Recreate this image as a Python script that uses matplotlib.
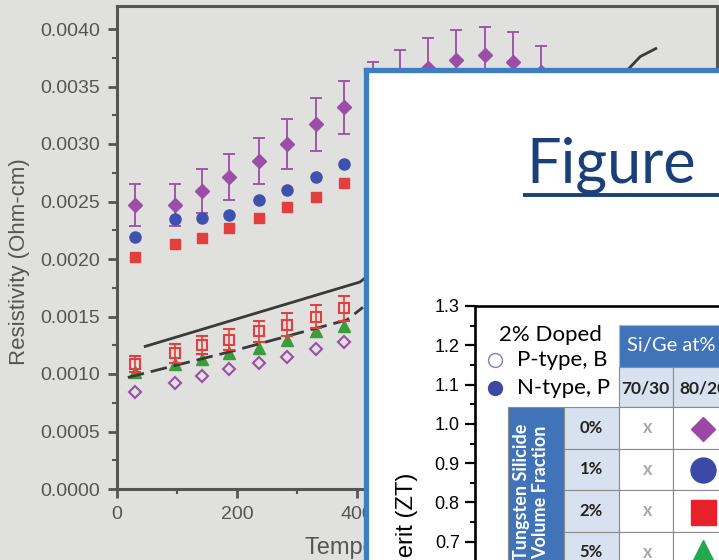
import matplotlib.pyplot as plt
from matplotlib.patches import Rectangle
from matplotlib.ticker import MultipleLocator, FormatStrFormatter

plt.rcParams['font.family'] = ['Liberation Sans', 'DejaVu Sans']

W, H = 719, 560
bg = '#e0e0de'

# ---- resistivity vs temperature (background chart) ----
temp = [30, 97, 142, 187, 237, 283, 332, 378, 426, 472, 518, 565, 613, 660, 707]
rho_w0 = [0.00247, 0.00247, 0.00259, 0.00271, 0.00285, 0.00300, 0.00317, 0.00332,
          0.00348, 0.00358, 0.00366, 0.00373, 0.00377, 0.00371, 0.00363]
rho_w0_err = [0.00018, 0.00018, 0.00019, 0.00020, 0.00020, 0.00022, 0.00023, 0.00023,
              0.00023, 0.00024, 0.00026, 0.00026, 0.00025, 0.00026, 0.00022]
rho_w1 = [0.00219, 0.00235, 0.00236, 0.00238, 0.00251, 0.00260, 0.00271, 0.00283]
rho_w2 = [0.00202, 0.00213, 0.00218, 0.00227, 0.00236, 0.00245, 0.00254, 0.00266]
rho_p2 = [0.00109, 0.00118, 0.00125, 0.00130, 0.00137, 0.00143, 0.00150, 0.00157]
rho_p2_err = [0.00007, 0.00008, 0.00008, 0.00009, 0.00009, 0.00010, 0.00010, 0.00011]
rho_p5 = [0.00102, 0.00109, 0.00113, 0.00118, 0.00123, 0.00130, 0.00137, 0.00142]
rho_p0 = [0.00084, 0.00092, 0.00098, 0.00104, 0.00110, 0.00115, 0.00122, 0.00128]

solid_x = [47, 405, 852, 872, 898]
solid_y = [0.00124, 0.00180, 0.00365, 0.00376, 0.00383]
dash_x = [18, 193, 383, 410]
dash_y = [0.00097, 0.00120, 0.00147, 0.00158]

# ---- ZT slide legend table ----
fractions = ['0%', '1%', '2%', '5%']
ratios = ['70/30', '80/20']
tbl_markers = ['D', 'o', 's', '^']
tbl_colors = ['#9c47a7', '#3b4aa6', '#e8202a', '#22a94b']
tbl_sizes = [12.5, 18, 18, 19]

purple = '#9a4ea6'
blue = '#3f51ae'
red = '#e2403e'
green = '#3c9c3c'
gray = '#555555'
slide_blue = '#3c7dc3'
hdr_blue = '#4173b9'
light_blue = '#d7e1ef'
title_blue = '#1b4079'


def box(l, t, r, b):
    return [l / W, 1 - b / H, (r - l) / W, (b - t) / H]


fig = plt.figure(figsize=(W / 100, H / 100), dpi=100, facecolor=bg)

ax = fig.add_axes(box(117, 6, 717, 489), zorder=0)
ax.set_facecolor(bg)
ax.errorbar(temp, rho_w0, yerr=rho_w0_err, fmt='D', color=purple, ms=7.5,
            capsize=4, elinewidth=1.3, capthick=1.3, zorder=3)
ax.plot(temp[:8], rho_w1, 'o', color=blue, ms=8, zorder=3)
ax.plot(temp[:8], rho_w2, 's', color=red, ms=6.5, zorder=3)
ax.plot(solid_x, solid_y, '-', color='#3a3a3a', lw=2, zorder=2)
ax.plot(temp[:8], rho_p5, '^', color=green, ms=9, zorder=3)
ax.plot(dash_x, dash_y, color='#3a3a3a', lw=2, dashes=(6, 2.5), zorder=4)
ax.errorbar(temp[:8], rho_p2, yerr=rho_p2_err, fmt='s', mfc='none', mec=red,
            mew=1.5, ms=7, ecolor=red, capsize=4, elinewidth=1.2, capthick=1.2, zorder=5)
ax.plot(temp[:8], rho_p0, 'D', mfc='none', mec=purple, mew=1.5, ms=6.5, zorder=3)

ax.set_xlim(0, 1000)
ax.set_ylim(0, 0.0042)
ax.set_xticks([0, 200, 400, 600, 800, 1000])
ax.set_yticks([0.0, 0.0005, 0.0010, 0.0015, 0.0020, 0.0025, 0.0030, 0.0035, 0.0040])
ax.yaxis.set_major_formatter(FormatStrFormatter('%.4f'))
ax.xaxis.set_minor_locator(MultipleLocator(100))
ax.yaxis.set_minor_locator(MultipleLocator(0.00025))
for s in ax.spines.values():
    s.set_color(gray)
    s.set_linewidth(2.2)
ax.tick_params(which='major', direction='out', length=6.5, width=2, color=gray,
               labelcolor=gray, labelsize=14, pad=5.5)
ax.tick_params(which='minor', direction='out', length=3.5, width=1.5, color=gray)
ax.set_ylabel('Resistivity (Ohm-cm)', fontsize=16, color=gray)
ax.yaxis.set_label_coords(-(117 - 30) / 600, 0.47)
ax.set_xlabel('Temperature (°C)', fontsize=17, color=gray, ha='left')
ax.xaxis.set_label_coords((305 - 117) / 600, -0.1)

# ---- slide panel on top ----
axp = fig.add_axes(box(366, 70, 780, 640), zorder=1)
axp.set_facecolor('white')
axp.set_xticks([])
axp.set_yticks([])
for s in axp.spines.values():
    s.set_color(slide_blue)
    s.set_linewidth(3.8)

# ---- ZT chart inside the slide ----
axz = fig.add_axes(box(475, 306, 780, 581), zorder=2)
axz.set_facecolor('none')
axz.set_ylim(0.6, 1.3)
axz.set_xticks([])
axz.set_yticks([0.7, 0.8, 0.9, 1.0, 1.1, 1.2, 1.3])
axz.yaxis.set_minor_locator(MultipleLocator(0.05))
axz.yaxis.set_major_formatter(FormatStrFormatter('%.1f'))
for k, s in axz.spines.items():
    s.set_color('black')
    s.set_linewidth(1.9)
    if k in ('right', 'bottom'):
        s.set_visible(False)
axz.tick_params(which='major', direction='out', length=7, width=1.6, labelsize=13, pad=4)
axz.tick_params(which='minor', direction='out', length=3.5, width=1.4)

# ---- overlay: title, legend, table ----
axo = fig.add_axes([0, 0, 1, 1], zorder=3)
axo.set_xlim(0, W)
axo.set_ylim(H, 0)
axo.axis('off')

axo.text(526, 183, 'Figure', fontsize=44, family='Lato', color=title_blue,
         ha='left', va='baseline')
axo.plot([523, W], [194.5, 194.5], color=title_blue, lw=2.8, solid_capstyle='butt')

axo.text(407, 473, 'Figure of Merit (ZT)', rotation=90, ha='center', va='top', fontsize=17)

axo.text(550, 335, '2% Doped', family='Lato', fontsize=16, ha='center', va='center')
axo.plot(495, 360, 'o', ms=10, mfc='white', mec='#8080b4', mew=1)
axo.text(517, 360, 'P-type, B', family='Lato', fontsize=16, ha='left', va='center')
axo.plot(495, 388, 'o', ms=10, color='#3c48a5')
axo.text(517, 388, 'N-type, P', family='Lato', fontsize=16, ha='left', va='center')

edge = '#8a8a8a'
col_x = [619, 673, 735]
row_top, row_h = 407, 41.5

axo.add_patch(Rectangle((619, 325), 120, 42, fc=hdr_blue, ec='#a7b9d6', lw=0.8))
axo.text(627, 346, 'Si/Ge at%', family='Lato', fontsize=14.5, color='white',
         ha='left', va='center')
for i, r in enumerate(ratios):
    axo.add_patch(Rectangle((col_x[i], 367), col_x[i + 1] - col_x[i], 40,
                            fc=light_blue, ec=edge, lw=0.8))
    axo.text((col_x[i] + col_x[i + 1]) / 2 - 1, 388, r, family='Lato', fontsize=12.5,
             fontweight='bold', color='#222222', ha='center', va='center')

axo.add_patch(Rectangle((508, row_top), 56, 220, fc=hdr_blue, ec=edge, lw=0.8))
axo.text(531, 492, 'Tungsten Silicide\nVolume Fraction', family='Lato', fontsize=13,
         fontweight='bold', color='white', rotation=90, ha='center', va='center',
         multialignment='center', linespacing=1.1)

for j, f in enumerate(fractions):
    yt = row_top + j * row_h
    yc = yt + row_h / 2
    axo.add_patch(Rectangle((564, yt), 55, row_h, fc=light_blue, ec=edge, lw=0.8))
    axo.text(591, yc, f, family='Lato', fontsize=12, fontweight='bold',
             color='#222222', ha='center', va='center')
    for i in range(2):
        axo.add_patch(Rectangle((col_x[i], yt), col_x[i + 1] - col_x[i], row_h,
                                fc='white', ec=edge, lw=0.8))
    axo.text(648, yc, 'x', family='Lato', fontsize=13, fontweight='bold',
             color='#a8a8a8', ha='center', va='center')
    axo.plot(703, yc + 1, marker=tbl_markers[j], ms=tbl_sizes[j], color=tbl_colors[j],
             ls='none')

fig.savefig('out.png', dpi=100, facecolor=bg)
